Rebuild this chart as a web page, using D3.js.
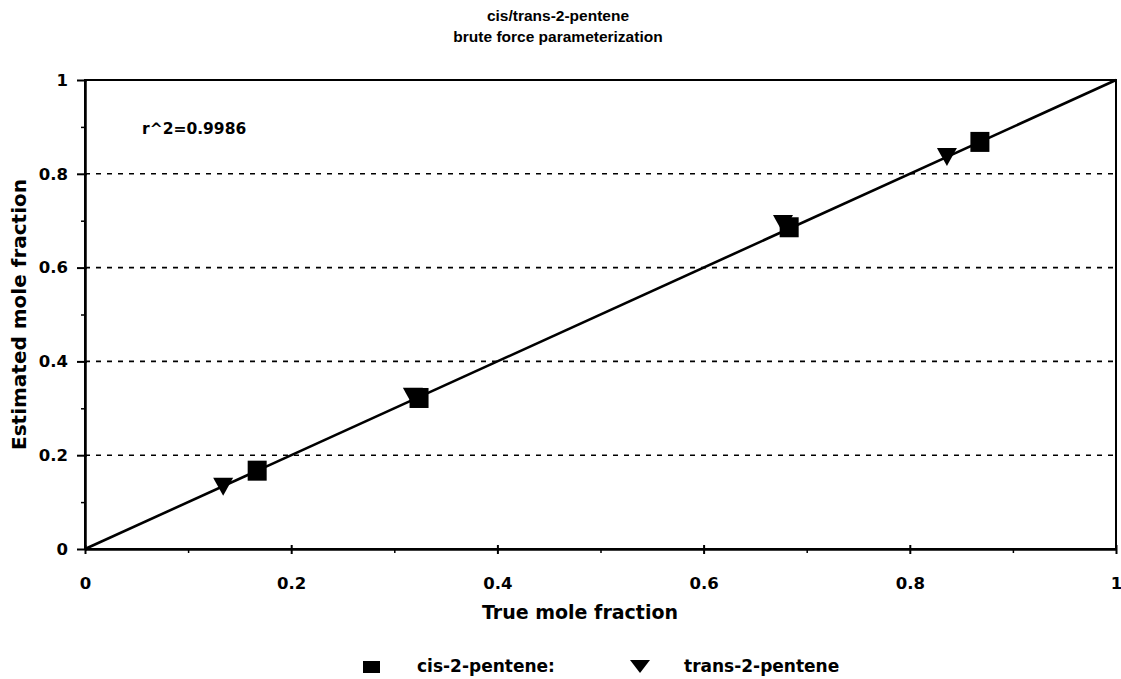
<!DOCTYPE html>
<html><head><meta charset="utf-8">
<script src="https://cdnjs.cloudflare.com/ajax/libs/d3/7.8.5/d3.min.js"></script>
<style>body{margin:0;background:#fff}svg{display:block}text{font-family:"DejaVu Sans",sans-serif;font-weight:bold;fill:#000}</style>
</head><body><svg id="c" width="1121" height="679"></svg>
<script>
const titleLines = ["cis/trans-2-pentene", "brute force parameterization"];
const xTitle = "True mole fraction";
const yTitle = "Estimated mole fraction";
const annotation = "r^2=0.9986";
const seriesNames = ["cis-2-pentene:", "trans-2-pentene"];
const cisTrue = [0.167, 0.324, 0.683, 0.868];
const cisEst = [0.167, 0.322, 0.686, 0.868];
const transTrue = [0.134, 0.318, 0.677, 0.836];
const transEst = [0.135, 0.327, 0.695, 0.838];
const tickValues = [0, 0.2, 0.4, 0.6, 0.8, 1];
const tickLabels = ["0", "0.2", "0.4", "0.6", "0.8", "1"];
const gridValues = [0.2, 0.4, 0.6, 0.8];
const minorValues = [0.1, 0.3, 0.5, 0.7, 0.9];
const fitLine = [[0, 0], [1, 1]];

const svg = d3.select("#c");
const L = 85, R = 1116, T = 80, B = 549;
const x = d3.scaleLinear().domain([0, 1]).range([L, R]);
const y = d3.scaleLinear().domain([0, 1]).range([B, T]);
const FONT = "'DejaVu Sans',sans-serif";

// title
svg.append("text").attr("x", 558).attr("y", 21).attr("text-anchor", "middle")
  .style("font-family", "'Liberation Sans',Arial,sans-serif").style("font-size", "15.5px").text(titleLines[0]);
svg.append("text").attr("x", 558).attr("y", 42).attr("text-anchor", "middle")
  .style("font-family", "'Liberation Sans',Arial,sans-serif").style("font-size", "15.5px").text(titleLines[1]);

// gridlines
svg.append("g").selectAll("line").data(gridValues).join("line")
  .attr("x1", L).attr("x2", R).attr("y1", d => y(d)).attr("y2", d => y(d))
  .attr("stroke", "#000").attr("stroke-width", 1.6).attr("stroke-dasharray", "5,6");

// frame
svg.append("rect").attr("x", L).attr("y", T).attr("width", R - L).attr("height", B - T)
  .attr("fill", "none").attr("stroke", "#000").attr("stroke-width", 2);

// axes
const xAxis = d3.axisBottom(x).tickValues(tickValues).tickFormat((d, i) => tickLabels[i]).tickSizeInner(5).tickSizeOuter(0).tickPadding(23);
const gx = svg.append("g").attr("transform", `translate(0,${B})`).call(xAxis);
gx.select(".domain").attr("stroke-width", 2.5);
gx.selectAll(".tick line").attr("stroke-width", 2).attr("y1", -4);
gx.selectAll("text").style("font-size", "16.5px").style("font-family", FONT).style("font-weight", "bold");
const gxm = svg.append("g").attr("transform", `translate(0,${B})`).call(d3.axisBottom(x).tickValues(minorValues).tickFormat("").tickSizeOuter(0).tickSize(4));
gxm.select(".domain").remove();
gxm.selectAll(".tick line").attr("stroke-width", 1.5);

const yAxis = d3.axisLeft(y).tickValues(tickValues).tickFormat((d, i) => tickLabels[i]).tickSizeInner(8).tickSizeOuter(0).tickPadding(9);
const gy = svg.append("g").attr("transform", `translate(${L},0)`).call(yAxis);
gy.select(".domain").attr("stroke-width", 2.5);
gy.selectAll(".tick line").attr("stroke-width", 2).attr("x2", -8).attr("x1", 2);
gy.selectAll("text").style("font-size", "16.5px").style("font-family", FONT).style("font-weight", "bold");
const gym = svg.append("g").attr("transform", `translate(${L},0)`).call(d3.axisLeft(y).tickValues(minorValues).tickFormat("").tickSizeOuter(0).tickSize(4));
gym.select(".domain").remove();
gym.selectAll(".tick line").attr("stroke-width", 1.5);

// fit line
svg.append("path").datum(fitLine)
  .attr("d", d3.line().x(d => x(d[0])).y(d => y(d[1])))
  .attr("stroke", "#000").attr("stroke-width", 2.6).attr("fill", "none");

// markers
const cis = cisTrue.map((v, i) => [v, cisEst[i]]);
const trans = transTrue.map((v, i) => [v, transEst[i]]);
svg.append("g").selectAll("rect").data(cis).join("rect")
  .attr("x", d => x(d[0]) - 9.5).attr("y", d => y(d[1]) - 10).attr("width", 19).attr("height", 20).attr("fill", "#000");
const tri = "M-10,-8L10,-8L0,10Z";
svg.append("g").selectAll("path").data(trans).join("path")
  .attr("transform", d => `translate(${x(d[0])},${y(d[1])})`).attr("d", tri).attr("fill", "#000");

// annotation
svg.append("text").attr("x", 142).attr("y", 134).style("font-size", "15.5px").text(annotation);

// axis titles
svg.append("text").attr("x", 580).attr("y", 619).attr("text-anchor", "middle").style("font-size", "19px").text(xTitle);
svg.append("text").attr("transform", `translate(26,${(T + B) / 2}) rotate(-90)`).attr("text-anchor", "middle").style("font-size", "20px").text(yTitle);

// legend
const lg = svg.append("g").attr("transform", "translate(0,666)");
lg.append("rect").attr("x", 363).attr("y", -5).attr("width", 17).attr("height", 12).attr("fill", "#000");
lg.append("text").attr("x", 417).attr("y", 6).style("font-size", "17px").text(seriesNames[0]);
lg.append("path").attr("transform", "translate(640,0)").attr("d", "M-10,-6L10,-6L0,7Z").attr("fill", "#000");
lg.append("text").attr("x", 684).attr("y", 6).style("font-size", "17px").text(seriesNames[1]);
</script></body></html>
